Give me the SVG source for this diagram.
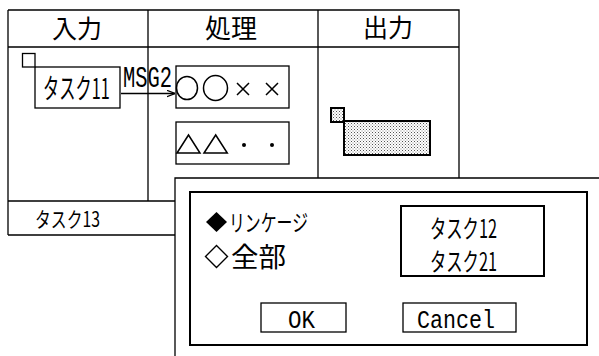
<svg xmlns="http://www.w3.org/2000/svg" width="599" height="356" viewBox="0 0 599 356">
<style>
.ln{fill:none;stroke:#000;stroke-width:1.3}
.bx{fill:#fff;stroke:#000;stroke-width:1.3}
.tk{fill:#fff;stroke:#000;stroke-width:2}
.jp{font-family:"Noto Sans CJK JP","Noto Sans",sans-serif;fill:#000}
.mono{font-family:"Liberation Mono","DejaVu Sans Mono",monospace;fill:#000}
.sym{fill:none;stroke:#000;stroke-width:1.5}
</style>
<defs>
<pattern id="dots" width="3" height="3" patternUnits="userSpaceOnUse">
<rect width="3" height="3" fill="#fff"/>
<rect x="0" y="0" width="1" height="1" fill="#555"/>
<rect x="1.5" y="1.5" width="1" height="1" fill="#888"/>
</pattern>
<marker id="arr" viewBox="0 0 10 10" refX="10" refY="5" markerWidth="8" markerHeight="8" markerUnits="userSpaceOnUse" orient="auto">
<path d="M0,1 L10,5 L0,9" fill="none" stroke="#000" stroke-width="1.5"/>
</marker>
</defs>

<g id="table">
<path class="ln" d="M8,10 H459 V178 M8,10 V235 M8,47 H459 M148,10 V201 M318,10 V178 M8,201 H175 M8,235 H175"/>
<text class="jp" x="77" y="38" font-size="25" text-anchor="middle">入力</text>
<text class="jp" x="231" y="38" font-size="26" text-anchor="middle">処理</text>
<text class="jp" x="388" y="37" font-size="25" text-anchor="middle">出力</text>
</g>

<g id="task11">
<rect class="bx" x="35" y="67" width="85" height="41"/>
<rect class="bx" x="22.5" y="53.5" width="12.5" height="13.5"/>
<text class="jp" transform="translate(43,99) scale(0.58,1)" x="0" y="0" font-size="28" textLength="115" lengthAdjust="spacingAndGlyphs">タスク11</text>
</g>

<g id="proc1">
<rect class="bx" x="176" y="66" width="113" height="42"/>
<ellipse class="sym" cx="187" cy="88" rx="10.5" ry="11.5"/>
<ellipse class="sym" cx="215.5" cy="88" rx="12" ry="12.5"/>
<path class="sym" d="M237,83 L249,95 M249,83 L237,95 M266,83 L278,95 M278,83 L266,95"/>
</g>

<g id="proc2">
<rect class="bx" x="176" y="122" width="113" height="42"/>
<path class="sym" d="M177,153 L188.5,135 L200,153 Z M204,153 L215.7,135 L227.3,153 Z"/>
<circle cx="244" cy="145" r="2" fill="#000"/>
<circle cx="272" cy="145" r="2" fill="#000"/>
</g>

<g id="output">
<rect x="331" y="108" width="13" height="14" fill="url(#dots)" stroke="#000" stroke-width="2"/>
<rect x="344" y="121" width="86" height="34" fill="url(#dots)" stroke="#000" stroke-width="2"/>
</g>

<g id="task13">
<text class="jp" x="35" y="227" font-size="21" textLength="65" lengthAdjust="spacingAndGlyphs">タスク13</text>
</g>

<g id="connectors">
<line class="ln" x1="121" y1="93.5" x2="175" y2="93.5" marker-end="url(#arr)"/>
<text class="mono" x="123" y="87" font-size="30" textLength="49" lengthAdjust="spacingAndGlyphs">MSG2</text>
</g>

<g id="dialog">
<path class="ln" d="M175,356 V178 H599"/>
<rect class="tk" x="190" y="192" width="397" height="153"/>
<path d="M216.5,212 L227,222 L216.5,232 L206,222 Z" fill="#000"/>
<text class="jp" x="229" y="231" font-size="23" textLength="79" lengthAdjust="spacingAndGlyphs">リンケージ</text>
<path d="M216.5,245.5 L227.5,256.5 L216.5,267.5 L205.5,256.5 Z" fill="none" stroke="#000" stroke-width="1.4"/>
<text class="jp" x="231" y="267" font-size="27" textLength="55" lengthAdjust="spacingAndGlyphs">全部</text>
</g>

<g id="listbox">
<rect class="tk" x="401" y="206" width="143" height="70"/>
<text class="jp" x="430" y="238" font-size="25" textLength="67" lengthAdjust="spacingAndGlyphs">タスク12</text>
<text class="jp" x="430" y="271" font-size="25" textLength="67" lengthAdjust="spacingAndGlyphs">タスク21</text>
</g>

<g id="ok">
<rect class="bx" x="261" y="303" width="85" height="29"/>
<text class="mono" x="288" y="328" font-size="26" textLength="27" lengthAdjust="spacingAndGlyphs">OK</text>
</g>

<g id="cancel">
<rect class="bx" x="403" y="303" width="113" height="29"/>
<text class="mono" x="417" y="328" font-size="26" textLength="78" lengthAdjust="spacingAndGlyphs">Cancel</text>
</g>
</svg>
